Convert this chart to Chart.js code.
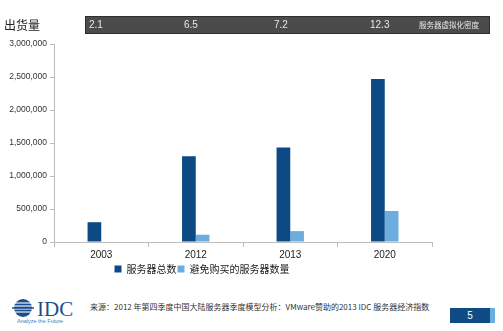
<!DOCTYPE html>
<html lang="zh">
<head>
<meta charset="UTF-8">
<title>服务器出货量</title>
<script src="https://cdn.jsdelivr.net/npm/chart.js"></script>
<style>
  body { margin: 0; width: 503px; height: 331px; background: #fff; position: relative; overflow: hidden;
         font-family: "Liberation Sans", Arial, "Noto Sans CJK SC", sans-serif; }
  #chartBox { position: absolute; left: -28px; top: 0; width: 531px; height: 284px; }
  .unit { position: absolute; left: 4px; top: 16px; font-size: 12px; color: #222; font-family: "Noto Sans CJK SC", sans-serif; }
  .band { position: absolute; left: 85px; top: 16px; width: 403px; height: 16px; background: #4b4b4b;
          border: 1px solid #2e2e2e; color: #e8e8e8; font-size: 10px; white-space: nowrap; }
  .band span { position: absolute; top: 2px; }
  .band .lbl { font-family: "Noto Sans CJK SC", sans-serif; font-size: 7.5px; top: 2px; }
  .logo { position: absolute; left: 12px; top: 298px; }
  .source { position: absolute; left: 90px; top: 301px; font-size: 8px; color: #333; white-space: nowrap;
            font-family: "Noto Sans CJK SC", sans-serif; }
  .page { position: absolute; left: 450px; top: 308px; width: 40px; height: 15px; background: #0f4c86; color: #fff;
          font-size: 10px; text-align: center; line-height: 15px; }
  .page2 { position: absolute; left: 490px; top: 308px; width: 5px; height: 15px; background: #6aaee0; }
</style>
</head>
<body>
<div id="chartBox"><canvas id="serverChart"></canvas></div>
<div class="unit">出货量</div>
<div class="band" id="band"></div>

<svg class="logo" width="80" height="26" viewBox="0 0 80 26">
  <circle cx="11" cy="10" r="9" fill="#1b4f8c"/>
  <g stroke="#fff" stroke-width="1.1">
    <line x1="0" y1="5" x2="22" y2="5"/>
    <line x1="0" y1="8" x2="22" y2="8"/>
    <line x1="0" y1="11" x2="22" y2="11"/>
    <line x1="0" y1="14" x2="22" y2="14"/>
  </g>
  <line x1="0" y1="10" x2="22" y2="10" stroke="#1b4f8c" stroke-width="1.5"/>
  <text x="25" y="18" font-family="Liberation Serif, serif" font-size="21" fill="#1b4f8c">IDC</text>
  <text x="5" y="25" font-family="Liberation Sans, Arial" font-size="5.5" fill="#3a7fc1">Analyze the Future</text>
</svg>
<div class="source">来源：2012 年第四季度中国大陆服务器季度模型分析：VMware赞助的2013 IDC 服务器经济指数</div>
<div class="page">5</div>
<div class="page2"></div>

<script>
// data
const years = ['2003', '2012', '2013', '2020'];
const totalServers = [300000, 1300000, 1430000, 2470000];
const avoidedServers = [0, 110000, 165000, 470000];
const density = ['2.1', '6.5', '7.2', '12.3'];
const densityLabel = '服务器虚拟化密度';

// top band with density values
const densityX = [3, 98, 188, 284];
const band = document.getElementById('band');
density.forEach((v, i) => {
    band.innerHTML += `<span style="left:${densityX[i]}px">${v}</span>`;
});
band.innerHTML += `<span class="lbl" style="left:333px">${densityLabel}</span>`;

const axisColor = '#bdbdbd';

new Chart(document.getElementById('serverChart'), {
    type: 'bar',
    data: {
        labels: years,
        datasets: [
            {
                label: '服务器总数',
                data: totalServers,
                backgroundColor: '#0c4a86',
                barPercentage: 1.0,
                categoryPercentage: 0.29
            },
            {
                label: '避免购买的服务器数量',
                data: avoidedServers,
                backgroundColor: '#6cade0',
                barPercentage: 1.0,
                categoryPercentage: 0.29
            }
        ]
    },
    options: {
        responsive: true,
        maintainAspectRatio: false,
        animation: false,
        layout: { padding: { top: 44, right: 71, left: 0, bottom: 0 } },
        plugins: {
            legend: {
                position: 'bottom',
                labels: {
                    boxWidth: 7,
                    boxHeight: 7,
                    padding: 1,
                    color: '#222',
                    font: { size: 10, family: '"Noto Sans CJK SC", sans-serif' }
                }
            },
            tooltip: { enabled: false }
        },
        scales: {
            x: {
                grid: { drawOnChartArea: false, color: axisColor, tickLength: 5 },
                border: { color: axisColor },
                ticks: { color: '#222', font: { size: 10, family: '"Liberation Sans", Arial' }, padding: 2 }
            },
            y: {
                min: 0,
                max: 3000000,
                afterFit: s => { s.width = 82; },
                grid: { drawOnChartArea: false, color: axisColor, tickLength: 4 },
                border: { color: axisColor },
                ticks: {
                    stepSize: 500000,
                    padding: 3,
                    color: '#333',
                    font: { size: 8.5, family: '"Liberation Sans", Arial' },
                    callback: v => v.toLocaleString('en-US')
                }
            }
        }
    }
});
</script>
</body>
</html>
